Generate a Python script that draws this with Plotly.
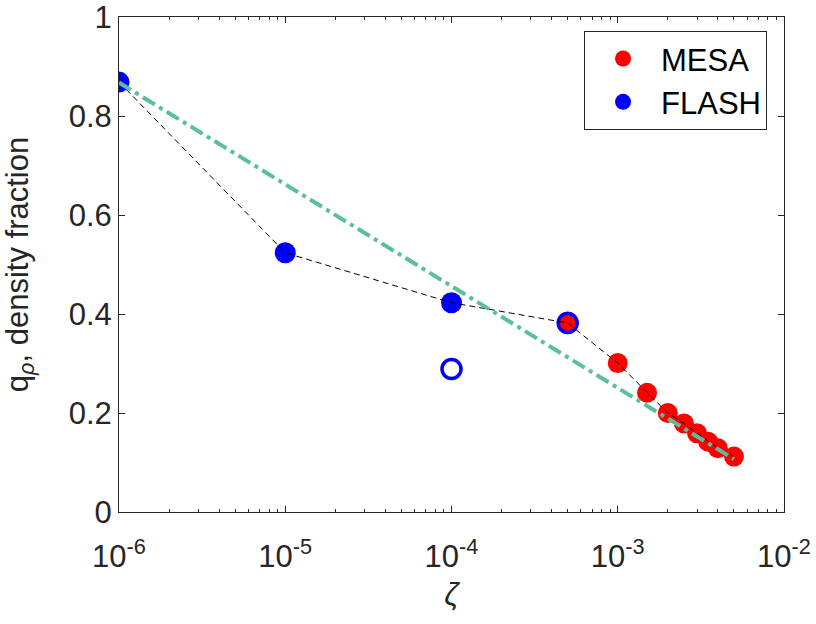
import plotly.graph_objects as go

# --- data ---
mesa_x = [5e-4, 1e-3, 1.5e-3, 2e-3, 2.5e-3, 3e-3, 3.5e-3, 4e-3, 5e-3]
mesa_q = [0.385, 0.301, 0.241, 0.200, 0.179, 0.159, 0.142, 0.129, 0.112]

flash_x = [1e-6, 1e-5, 1e-4, 5e-4]
flash_q = [0.869, 0.524, 0.423, 0.382]

flash_open_x = [1e-4, 5e-4]
flash_open_q = [0.289, 0.382]

fit_x = [1e-6, 5e-3]
fit_q = [0.868, 0.107]

xtick_vals = [1e-6, 1e-5, 1e-4, 1e-3, 1e-2]
xtick_text = ["10<sup>-6</sup>", "10<sup>-5</sup>", "10<sup>-4</sup>", "10<sup>-3</sup>", "10<sup>-2</sup>"]
ytick_vals = [0, 0.2, 0.4, 0.6, 0.8, 1]
ytick_text = ["0", "0.2", "0.4", "0.6", "0.8", "1"]

minor_vals = [k * 10.0 ** e for e in range(-6, -2) for k in range(2, 10)]

line_x = flash_x + mesa_x[1:]
line_q = flash_q + mesa_q[1:]

FONT = "Liberation Sans, Arial, sans-serif"
AX = "#262626"

fig = go.Figure()
fig.add_trace(go.Scatter(x=flash_x, y=flash_q, mode="markers", name="FLASH", legendrank=2,
                         marker=dict(color="#0000FF", size=21, line=dict(width=0))))
fig.add_trace(go.Scatter(x=mesa_x, y=mesa_q, mode="markers", name="MESA", legendrank=1,
                         marker=dict(color="#FF0000", size=20, line=dict(width=0))))
fig.add_trace(go.Scatter(x=flash_open_x, y=flash_open_q, mode="markers", showlegend=False,
                         marker=dict(color="#0000FF", size=19, symbol="circle-open",
                                     line=dict(color="#0000FF", width=3.5))))
fig.add_trace(go.Scatter(x=line_x, y=line_q, mode="lines", showlegend=False,
                         line=dict(color="black", width=1, dash="6px,4px")))
fig.add_trace(go.Scatter(x=fit_x, y=fit_q, mode="lines", showlegend=False,
                         line=dict(color="#5ABF9F", width=4, dash="14px,5px,4px,5px")))
# invisible trace to host minor-tick axis
fig.add_trace(go.Scatter(x=[1e-6], y=[0], xaxis="x2", mode="markers", showlegend=False,
                         hoverinfo="skip", marker=dict(opacity=0)))

fig.update_layout(
    width=816, height=624,
    margin=dict(l=119, r=32, t=17, b=112),
    paper_bgcolor="white", plot_bgcolor="white",
    font=dict(family=FONT, size=31, color=AX),
    showlegend=True,
    legend=dict(x=0.9745, y=0.972, xanchor="right", yanchor="top",
                bordercolor="#262626", borderwidth=1, bgcolor="white",
                font=dict(family=FONT, size=31, color="black"),
                itemwidth=66, tracegroupgap=0),
    xaxis2=dict(type="log", range=[-6, -2], overlaying="x", side="bottom",
                tickvals=minor_vals, ticktext=[""] * len(minor_vals),
                ticks="inside", ticklen=3, tickcolor=AX, tickwidth=1,
                showline=True, linecolor=AX, linewidth=1, mirror="ticks",
                showgrid=False, zeroline=False, automargin=False),
    xaxis=dict(
        type="log", range=[-6, -2],
        tickvals=xtick_vals, ticktext=xtick_text,
        ticks="inside", ticklen=6, tickcolor=AX, tickwidth=1,
        showline=True, linecolor=AX, linewidth=1, mirror="ticks",
        showgrid=False, zeroline=False, automargin=False,
        ticklabelstandoff=17,
        title=dict(text="<i>ζ</i>", font=dict(family=FONT, size=31, color=AX), standoff=10),
        tickfont=dict(family=FONT, size=31, color=AX),
    ),
    yaxis=dict(
        range=[0, 1.0005],
        tickvals=ytick_vals, ticktext=ytick_text,
        ticks="inside", ticklen=6, tickcolor=AX, tickwidth=1,
        showline=True, linecolor=AX, linewidth=1, mirror="ticks",
        showgrid=False, zeroline=False, automargin=False,
        title=dict(text="q<sub><i>ρ</i></sub>, density fraction", font=dict(family=FONT, size=31, color=AX), standoff=35),
        tickfont=dict(family=FONT, size=31, color=AX),
    ),
)

fig.write_html("out.html", config={"displayModeBar": False},
               post_script="document.body.style.margin='0';document.body.style.padding='0';")
